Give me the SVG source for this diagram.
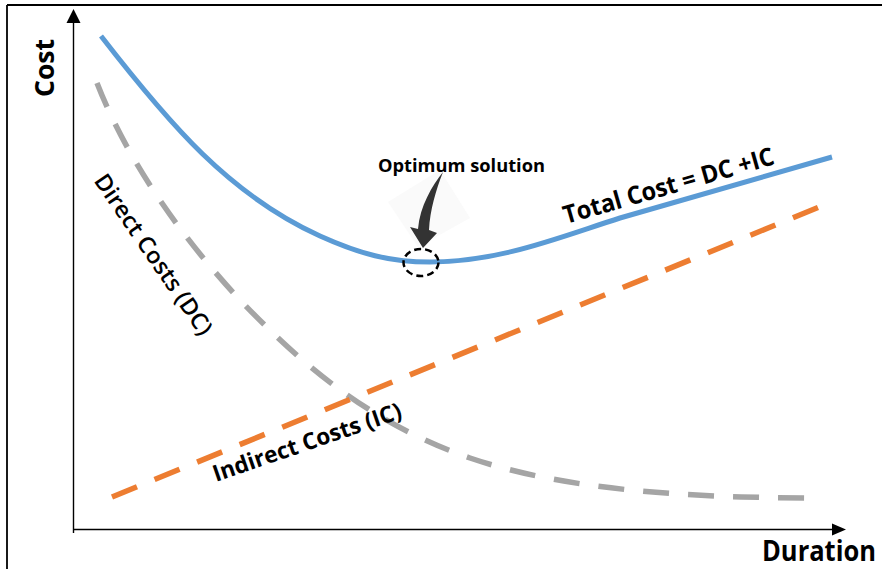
<svg xmlns="http://www.w3.org/2000/svg" width="887" height="569" viewBox="0 0 887 569">
  <defs>
    <style>
      .frame { stroke: #000; stroke-width: 1.8; fill: none; }
      .axis { stroke: #000; stroke-width: 1.4; fill: none; }
      .head { fill: #000; stroke: none; }
      .curve { fill: none; stroke-width: 5.5; stroke-linecap: butt; }
      .total { stroke: #5B9BD5; stroke-width: 5; }
      .direct { stroke: #A5A5A5; stroke-dasharray: 26 19; }
      .indirect { stroke: #ED7D31; stroke-dasharray: 27 19; }
      .lbl { font-family: "Open Sans", "Liberation Sans", Arial, sans-serif; fill: #000; }
      .b { font-weight: bold; }
      .sb { font-weight: 600; }
    </style>
  </defs>

  <rect width="887" height="569" fill="#fff"/>

  <!-- picture frame (left and top edges) -->
  <g id="frame">
    <line class="frame" x1="7" y1="5" x2="7" y2="569"/>
    <line class="frame" x1="7" y1="5" x2="882" y2="5"/>
  </g>

  <!-- axes -->
  <g id="axes">
    <line class="axis" x1="73.5" y1="533" x2="73.5" y2="20"/>
    <polygon class="head" points="73.5,9 66.5,23 80.5,23"/>
    <line class="axis" x1="73" y1="529.5" x2="834" y2="529.5"/>
    <polygon class="head" points="846,529.5 832,523.5 832,535.5"/>
  </g>

  <!-- cost curves -->
  <g id="curves">
    <path id="direct-costs" class="curve direct"
          d="M97,83 C125,155 175,230 240,300 C290,352 360,420 470,458 C570,492 700,498 822,498"/>
    <path id="indirect-costs" class="curve indirect" d="M112,497 L829,203"/>
    <path id="total-cost" class="curve total"
          d="M101,36 C170,125 230,195 320,236 C360,254 390,262 430,262 C500,262 560,237 620,218 C700,195 780,172 832,157"/>
  </g>

  <!-- optimum marker -->
  <g id="optimum">
    <polygon points="440,170 470,218 418,247 388,202" fill="#fafafa"/>
    <path d="M443,172 C432,186 420,206 418,229 L410,227 L423,248 L437,233 L429,230 C430,210 436,190 443,172 Z" fill="#333"/>
    <ellipse cx="421" cy="262.5" rx="17.5" ry="13.5" fill="none" stroke="#000" stroke-width="2.5" stroke-dasharray="7 4"/>
    <text class="lbl b" x="378" y="172" font-size="18" textLength="167" lengthAdjust="spacingAndGlyphs">Optimum solution</text>
  </g>

  <!-- labels -->
  <g id="labels">
    <text id="label-cost" class="lbl b" x="0" y="0" font-size="26" text-anchor="middle"
          textLength="58" lengthAdjust="spacingAndGlyphs" transform="translate(54,68) rotate(-90)">Cost</text>
    <text id="label-duration" class="lbl b" x="762" y="561" font-size="28"
          textLength="114" lengthAdjust="spacingAndGlyphs">Duration</text>
    <text id="label-total" class="lbl b" x="566" y="224" font-size="25"
          textLength="218" lengthAdjust="spacingAndGlyphs" transform="rotate(-16 566 224)">Total Cost = DC +IC</text>
    <text id="label-direct" class="lbl sb" x="147" y="259" font-size="23" text-anchor="middle"
          textLength="190" lengthAdjust="spacingAndGlyphs" transform="rotate(55.5 147 259)">Direct Costs (DC)</text>
    <text id="label-indirect" class="lbl b" x="216" y="482" font-size="23"
          textLength="198" lengthAdjust="spacingAndGlyphs" transform="rotate(-19 216 482)">Indirect Costs (IC)</text>
  </g>
</svg>
